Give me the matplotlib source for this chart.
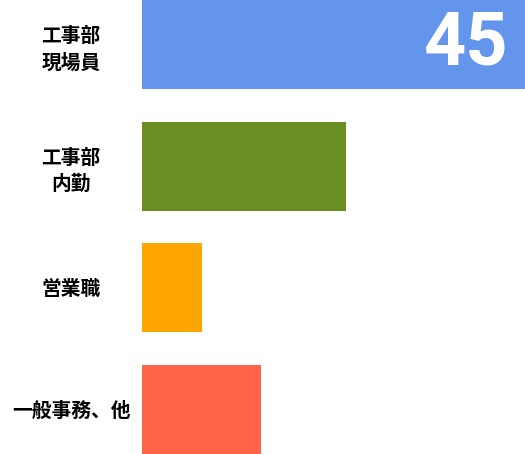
import matplotlib.pyplot as plt

plt.rcParams['font.family'] = ['Noto Sans CJK JP', 'DejaVu Sans']

categories = ["工事部\n現場員", "工事部\n内勤", "営業職", "一般事務、他"]
values = [45, 24, 7, 14]
colors = ["#6495ED", "#6B8E23", "#FFA500", "#FF6347"]
shown_value = "45"

fig = plt.figure(figsize=(5.25, 4.54), dpi=100)
ax = fig.add_axes([142 / 525, 0, 1 - 142 / 525, 1])

pos = list(range(len(categories)))
ax.barh(pos, values, height=0.73, color=colors)
ax.set_xlim(0, 45)
ax.set_ylim(3.365, -0.365)

ax.set_yticks(pos)
ax.set_yticklabels(categories, fontsize=14.2, fontweight='bold', ha='center',
                   linespacing=1.45)
ax.tick_params(axis='y', length=0, pad=51)
ax.tick_params(axis='x', bottom=False, labelbottom=False)
for s in ax.spines.values():
    s.set_visible(False)

# value label inside the first bar
ax.annotate(shown_value, xy=(values[0], pos[0]), xytext=(-17 * 72 / 100, 0),
            textcoords='offset points', ha='right', va='center',
            color='white', fontsize=53, fontweight='bold', family='Roboto')

fig.savefig("out.png", dpi=100)
